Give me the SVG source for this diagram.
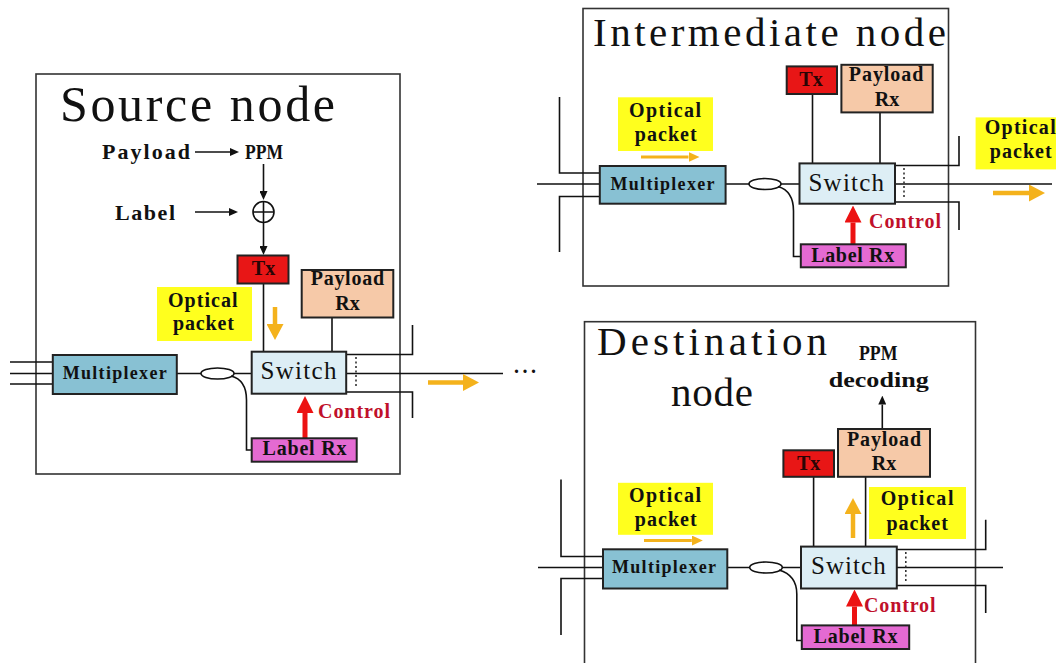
<svg xmlns="http://www.w3.org/2000/svg" width="1056" height="663" viewBox="0 0 1056 663">
<style>
  .frame{fill:none;stroke:#333;stroke-width:1.6}
  .box{stroke:#222;stroke-width:2}
  .tx{fill:#e81616}
  .prx{fill:#f6c9a8}
  .sw{fill:#ddeef5}
  .mux{fill:#88c1d3}
  .lrx{fill:#e46ad2}
  .yel{fill:#ffff1e}
  .wire{fill:none;stroke:#111;stroke-width:1.6}
  .dot{fill:none;stroke:#333;stroke-width:1.6;stroke-dasharray:2 2.5}
  .red{fill:none;stroke:#ec1212;stroke-width:5}
  .org{fill:none;stroke:#f4b21c;stroke-width:4.5}
  .orgs{fill:none;stroke:#f4b21c;stroke-width:3}
  .blk{fill:none;stroke:#111;stroke-width:1.6}
  .title{font-family:"Liberation Serif",serif;fill:#111}
  .t{font-family:"Liberation Serif",serif;font-weight:bold;fill:#111;font-size:20px}
  .big{font-size:22px}
  .swt{font-family:"Liberation Serif",serif;fill:#111;font-size:25px}
  .mt{font-size:18px}
  .ctl{fill:#c0102a}
  .txt{fill:#2a0505}
  .mid{text-anchor:middle}
</style>
<defs>
  <marker id="ah" markerUnits="userSpaceOnUse" viewBox="0 0 9 8" refX="0" refY="4" markerWidth="9" markerHeight="8" orient="auto"><path d="M0,0 L9,4 L0,8 z" fill="#111"/></marker>
  <marker id="ahr" markerUnits="userSpaceOnUse" viewBox="0 0 17 17" refX="0" refY="8.5" markerWidth="17" markerHeight="17" orient="auto"><path d="M0,0 L17,8.5 L0,17 z" fill="#ec1212"/></marker>
  <marker id="aho" markerUnits="userSpaceOnUse" viewBox="0 0 16 17" refX="0" refY="8.5" markerWidth="16" markerHeight="17" orient="auto"><path d="M0,0 L16,8.5 L0,17 z" fill="#f4b21c"/></marker>
  <marker id="ahs" markerUnits="userSpaceOnUse" viewBox="0 0 11 10" refX="0" refY="5" markerWidth="11" markerHeight="10" orient="auto"><path d="M0,0 L11,5 L0,10 z" fill="#f4b21c"/></marker>
</defs>
<rect width="1056" height="663" fill="#fff"/>

<!-- containers -->
<g id="source-node">
  <rect class="frame" x="36" y="74" width="364" height="400"/>
  <text class="title" x="60" y="121" font-size="50" textLength="275" lengthAdjust="spacing">Source node</text>
</g>
<g id="intermediate-node">
  <rect class="frame" x="583" y="8.5" width="365.5" height="277.5"/>
  <text class="title" x="593" y="46" font-size="41" textLength="353" lengthAdjust="spacing">Intermediate node</text>
</g>
<g id="destination-node">
  <rect class="frame" x="584.5" y="321.7" width="391" height="360"/>
  <text class="title" x="597" y="355.3" font-size="41" textLength="230" lengthAdjust="spacing">Destination</text>
  <text class="title" x="671" y="405.6" font-size="41" textLength="82" lengthAdjust="spacing">node</text>
</g>

<!-- connectors -->
<g id="connectors">
  <!-- source -->
  <line class="blk" x1="195" y1="152" x2="230" y2="152" marker-end="url(#ah)"/>
  <line class="blk" x1="263.5" y1="164" x2="263.5" y2="191" marker-end="url(#ah)"/>
  <line class="blk" x1="195" y1="212" x2="229" y2="212" marker-end="url(#ah)"/>
  <line class="blk" x1="263.5" y1="222.5" x2="263.5" y2="246" marker-end="url(#ah)"/>
  <line class="wire" x1="263.5" y1="283.5" x2="263.5" y2="351.7"/>
  <line class="wire" x1="332" y1="317.5" x2="332" y2="351.7"/>
  <path class="wire" d="M10,362 H53 M10,373.5 H53 M10,384 H53"/>
  <path class="wire" d="M177,373.5 H201 M234,373.5 H252"/>
  <ellipse class="wire" cx="217.5" cy="373.5" rx="16.5" ry="5.5"/>
  <path class="wire" d="M231,376 C243,379 246.5,388 246.5,400 V450 H252"/>
  <path class="wire" d="M346,354.5 H412.5 V325 M346,373.5 H503 M346,392 H412.5 V418"/>
  <line class="dot" x1="356" y1="357" x2="356" y2="387"/>
  <line class="red" x1="305" y1="438" x2="305" y2="413" marker-end="url(#ahr)"/>
  <line class="org" x1="275" y1="307" x2="275" y2="324" marker-end="url(#aho)"/>
  <line class="org" x1="428" y1="382.5" x2="463" y2="382.5" marker-end="url(#aho)"/>
  <!-- intermediate -->
  <line class="wire" x1="812.5" y1="94" x2="812.5" y2="163.4"/>
  <line class="wire" x1="880" y1="112.4" x2="880" y2="163.4"/>
  <path class="wire" d="M559.5,97 V173 H600 M537,184 H600 M600,196.5 H559.5 V252"/>
  <path class="wire" d="M725.6,184 H749 M781,184 H799.5"/>
  <ellipse class="wire" cx="765" cy="184" rx="16" ry="5.5"/>
  <path class="wire" d="M778,186.5 C790,190 793.5,199 793.5,211 V256.5 H801"/>
  <path class="wire" d="M895,165.5 H959 V136 M895,184 H1052 M895,202 H959 V230"/>
  <line class="dot" x1="904" y1="168" x2="904" y2="198"/>
  <line class="red" x1="853" y1="244.3" x2="853" y2="222.5" marker-end="url(#ahr)"/>
  <line class="orgs" x1="641" y1="157" x2="688.5" y2="157" marker-end="url(#ahs)"/>
  <line class="org" x1="993" y1="193" x2="1029" y2="193" marker-end="url(#aho)"/>
  <!-- destination -->
  <line class="blk" x1="882.3" y1="429" x2="882.3" y2="404.6" marker-end="url(#ah)"/>
  <line class="wire" x1="813.6" y1="476.8" x2="813.6" y2="546.6"/>
  <line class="wire" x1="865.6" y1="476.8" x2="865.6" y2="546.6"/>
  <path class="wire" d="M561,479.5 V556.5 H603 M538,567.5 H603 M603,578.5 H561 V635"/>
  <path class="wire" d="M727.3,567.5 H750 M782.3,567.5 H801"/>
  <ellipse class="wire" cx="766" cy="567.5" rx="16.3" ry="5.5"/>
  <path class="wire" d="M779,570 C791,573.5 796.8,582 796.8,594 V640.5 H802"/>
  <path class="wire" d="M896.8,549.5 H985.7 V519.7 M896.8,567.5 H1003 M896.8,585.5 H985.7 V613"/>
  <line class="dot" x1="905.8" y1="552" x2="905.8" y2="581"/>
  <line class="red" x1="854.5" y1="625.4" x2="854.5" y2="606.5" marker-end="url(#ahr)"/>
  <line class="org" x1="853" y1="538" x2="853" y2="514" marker-end="url(#aho)"/>
  <line class="orgs" x1="644" y1="540.5" x2="691.8" y2="540.5" marker-end="url(#ahs)"/>
</g>

<!-- source node parts -->
<g id="src-payload-text"><text class="t big" x="102" y="159" textLength="88" lengthAdjust="spacing">Payload</text></g>
<g id="src-ppm"><text class="t" x="245" y="159" font-size="21" textLength="38" lengthAdjust="spacingAndGlyphs">PPM</text></g>
<g id="src-label-text"><text class="t big" x="115" y="220" textLength="60" lengthAdjust="spacing">Label</text></g>
<g id="src-combiner">
  <circle cx="263.5" cy="212" r="10.5" fill="none" stroke="#111" stroke-width="1.6"/>
  <path d="M253,212 H274 M263.5,201.5 V222.5" stroke="#111" stroke-width="1.6"/>
</g>
<g id="src-tx">
  <rect class="box tx" x="237.5" y="255.5" width="51" height="28"/>
  <text class="t txt mid" x="263.5" y="275">Tx</text>
</g>
<g id="src-payload-rx">
  <rect class="box prx" x="301.7" y="270" width="91.6" height="47.5"/>
  <text class="t" x="310.7" y="285" textLength="73.3" lengthAdjust="spacing">Payload</text>
  <text class="t mid" x="347.5" y="310">Rx</text>
</g>
<g id="src-optical-packet">
  <rect class="yel" x="157" y="287" width="95" height="54"/>
  <text class="t" x="168" y="306.7" textLength="69.5" lengthAdjust="spacing">Optical</text>
  <text class="t" x="173" y="330" textLength="61" lengthAdjust="spacing">packet</text>
</g>
<g id="src-multiplexer">
  <rect class="box mux" x="52.8" y="355" width="124" height="39"/>
  <text class="t mt" x="62.7" y="379" textLength="104" lengthAdjust="spacing">Multiplexer</text>
</g>
<g id="src-switch">
  <rect class="box sw" x="251.7" y="351.7" width="94.5" height="42"/>
  <text class="swt" x="260.5" y="379.3" textLength="76" lengthAdjust="spacing">Switch</text>
</g>
<g id="src-label-rx">
  <rect class="box lrx" x="251.7" y="438.3" width="105" height="23.4"/>
  <text class="t" x="262.5" y="455" textLength="84" lengthAdjust="spacing">Label Rx</text>
</g>
<g id="src-control"><text class="t ctl" x="318" y="418" textLength="72" lengthAdjust="spacing">Control</text></g>
<g id="ellipsis"><text class="t" x="514" y="373" textLength="22" lengthAdjust="spacing">...</text></g>

<!-- intermediate node parts -->
<g id="int-tx">
  <rect class="box tx" x="786.7" y="66.4" width="50.3" height="27.6"/>
  <text class="t txt mid" x="811" y="85.6">Tx</text>
</g>
<g id="int-payload-rx">
  <rect class="box prx" x="841.4" y="64.8" width="91.3" height="47.6"/>
  <text class="t" x="848.8" y="80.5" textLength="74.5" lengthAdjust="spacing">Payload</text>
  <text class="t mid" x="887" y="105.7">Rx</text>
</g>
<g id="int-optical-in">
  <rect class="yel" x="618" y="97.3" width="95" height="53.7"/>
  <text class="t" x="629" y="117.4" textLength="72" lengthAdjust="spacing">Optical</text>
  <text class="t" x="634.7" y="141" textLength="62" lengthAdjust="spacing">packet</text>
</g>
<g id="int-optical-out">
  <rect class="yel" x="975.6" y="117.4" width="80.4" height="52"/>
  <text class="t" x="984.7" y="134.2" textLength="71" lengthAdjust="spacing">Optical</text>
  <text class="t" x="989.7" y="157.7" textLength="62" lengthAdjust="spacing">packet</text>
</g>
<g id="int-multiplexer">
  <rect class="box mux" x="599.8" y="166" width="125.8" height="37.7"/>
  <text class="t mt" x="610.5" y="189.6" textLength="104" lengthAdjust="spacing">Multiplexer</text>
</g>
<g id="int-switch">
  <rect class="box sw" x="799.5" y="163.4" width="95.5" height="40.3"/>
  <text class="swt" x="808.5" y="191.3" textLength="75.5" lengthAdjust="spacing">Switch</text>
</g>
<g id="int-label-rx">
  <rect class="box lrx" x="800.8" y="244.3" width="105" height="23"/>
  <text class="t" x="811.2" y="261.5" textLength="83" lengthAdjust="spacing">Label Rx</text>
</g>
<g id="int-control"><text class="t ctl" x="869" y="228.2" textLength="72" lengthAdjust="spacing">Control</text></g>

<!-- destination node parts -->
<g id="dst-ppm-decoding">
  <text class="t" x="859" y="360.3" font-size="21" textLength="38.5" lengthAdjust="spacingAndGlyphs">PPM</text>
  <text class="t" x="828.7" y="387" font-size="22" textLength="100" lengthAdjust="spacingAndGlyphs">decoding</text>
</g>
<g id="dst-payload-rx">
  <rect class="box prx" x="838" y="429" width="92" height="47.8"/>
  <text class="t" x="847" y="446" textLength="74" lengthAdjust="spacing">Payload</text>
  <text class="t mid" x="884" y="470.4">Rx</text>
</g>
<g id="dst-tx">
  <rect class="box tx" x="783.4" y="450.3" width="50.6" height="26.5"/>
  <text class="t txt mid" x="808.6" y="470.4">Tx</text>
</g>
<g id="dst-optical-in">
  <rect class="yel" x="618" y="482.8" width="95" height="52"/>
  <text class="t" x="629" y="502" textLength="72" lengthAdjust="spacing">Optical</text>
  <text class="t" x="634.7" y="526.4" textLength="62" lengthAdjust="spacing">packet</text>
</g>
<g id="dst-optical-drop">
  <rect class="yel" x="869" y="487" width="97" height="52"/>
  <text class="t" x="880.7" y="504.6" textLength="72.8" lengthAdjust="spacing">Optical</text>
  <text class="t" x="886.4" y="529.8" textLength="61.4" lengthAdjust="spacing">packet</text>
</g>
<g id="dst-multiplexer">
  <rect class="box mux" x="603" y="549.3" width="124.3" height="39.2"/>
  <text class="t mt" x="612" y="573.4" textLength="104" lengthAdjust="spacing">Multiplexer</text>
</g>
<g id="dst-switch">
  <rect class="box sw" x="801" y="546.6" width="95.8" height="41.9"/>
  <text class="swt" x="811" y="574.4" textLength="74.7" lengthAdjust="spacing">Switch</text>
</g>
<g id="dst-label-rx">
  <rect class="box lrx" x="801.8" y="625.4" width="107.4" height="23.6"/>
  <text class="t" x="813.6" y="643" textLength="83.8" lengthAdjust="spacing">Label Rx</text>
</g>
<g id="dst-control"><text class="t ctl" x="864" y="612" textLength="71.5" lengthAdjust="spacing">Control</text></g>
</svg>
